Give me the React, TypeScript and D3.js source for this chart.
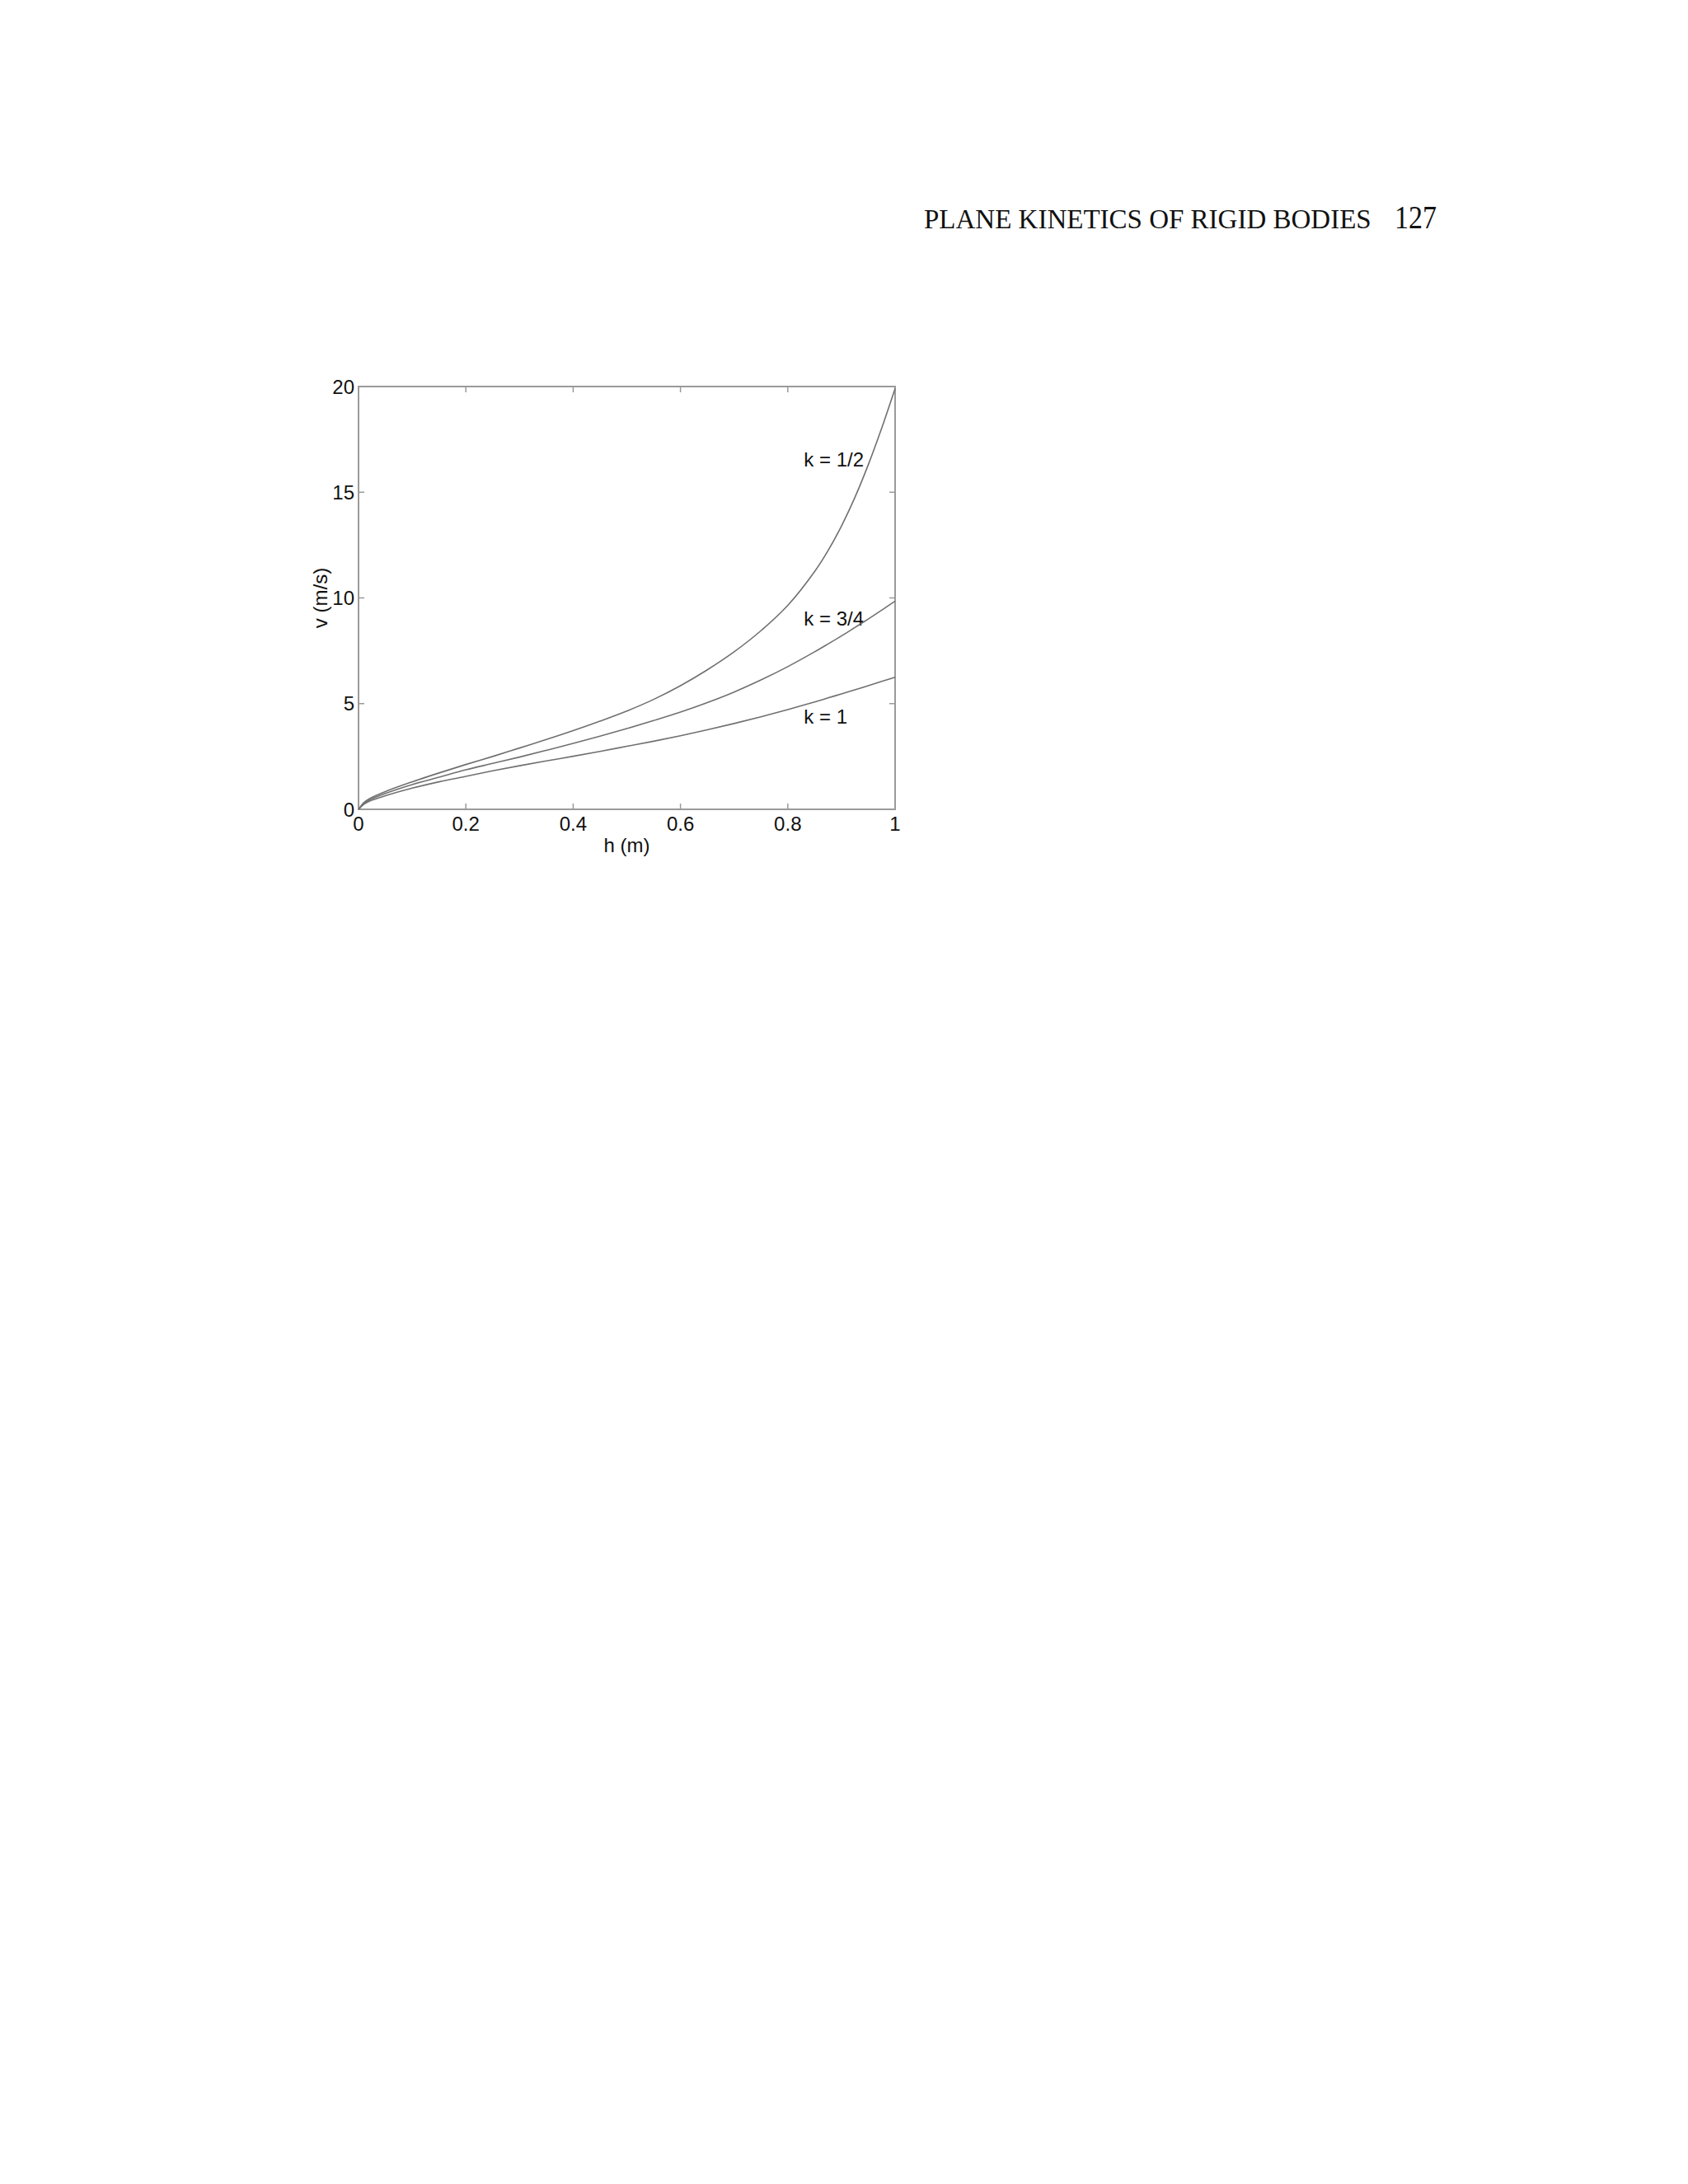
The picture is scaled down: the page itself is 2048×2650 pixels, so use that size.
import React, { useRef, useEffect } from "react";
import * as d3 from "d3";

// h (m) sample points
const heights = [0, 0.01, 0.02, 0.05, 0.1, 0.15, 0.2, 0.25, 0.3, 0.35, 0.4, 0.45, 0.5, 0.55, 0.6, 0.65, 0.7, 0.75, 0.8, 0.85, 0.875, 0.9, 0.925, 0.95, 0.975, 1];

// v (m/s) for each k, same length as heights
const vHalf = [0, 0.32, 0.5, 0.84, 1.3, 1.72, 2.12, 2.5, 2.9, 3.3, 3.72, 4.17, 4.65, 5.2, 5.85, 6.6, 7.45, 8.45, 9.65, 11.25, 12.24, 13.4, 14.75, 16.3, 18.03, 19.9];
const vThreeQuarter = [0, 0.28, 0.44, 0.75, 1.17, 1.52, 1.87, 2.17, 2.47, 2.79, 3.12, 3.46, 3.82, 4.2, 4.6, 5.05, 5.55, 6.12, 6.75, 7.45, 7.82, 8.2, 8.6, 9.0, 9.42, 9.85];
const vOne = [0, 0.24, 0.38, 0.64, 1.0, 1.3, 1.56, 1.82, 2.06, 2.29, 2.51, 2.74, 2.98, 3.22, 3.48, 3.76, 4.06, 4.38, 4.72, 5.08, 5.27, 5.46, 5.65, 5.85, 6.05, 6.25];

const seriesNames = ["k = 1/2", "k = 3/4", "k = 1"];
const seriesValues = [vHalf, vThreeQuarter, vOne];
// where each curve label sits (h, v of the text baseline start)
const labelPos = [[0.83, 16.2], [0.83, 8.7], [0.83, 4.05]];

const xTicks = [0, 0.2, 0.4, 0.6, 0.8, 1];
const yTicks = [0, 5, 10, 15, 20];

const App: React.FC = () => {
    const svgRef = useRef<SVGSVGElement | null>(null);

    useEffect(() => {
        if (!svgRef.current) return;
        const svg = d3.select(svgRef.current);
        svg.selectAll("*").remove();

        const left = 435, right = 1086, top = 469, bottom = 982;
        const x = d3.scaleLinear().domain([0, 1]).range([left, right]);
        const y = d3.scaleLinear().domain([0, 20]).range([bottom, top]);

        const axisColor = "#9a9a9a";
        const font = "Arial, 'Liberation Sans', sans-serif";
        const tickLen = 7;

        // running header
        svg.append("text")
            .attr("x", 1121).attr("y", 277)
            .attr("font-family", "'Times New Roman', 'Liberation Serif', serif")
            .attr("font-size", 33)
            .attr("fill", "#111")
            .text("PLANE KINETICS OF RIGID BODIES");
        svg.append("text")
            .attr("x", 1692).attr("y", 277)
            .attr("font-family", "'Times New Roman', 'Liberation Serif', serif")
            .attr("font-size", 40)
            .attr("textLength", 51)
            .attr("lengthAdjust", "spacingAndGlyphs")
            .attr("fill", "#111")
            .text("127");

        // axes box
        svg.append("rect")
            .attr("x", left).attr("y", top)
            .attr("width", right - left).attr("height", bottom - top)
            .attr("fill", "none")
            .attr("stroke", axisColor)
            .attr("stroke-width", 2);

        // ticks on all four sides (inward)
        const g = svg.append("g").attr("stroke", axisColor).attr("stroke-width", 1.5);
        xTicks.slice(1, -1).forEach(t => {
            g.append("line").attr("x1", x(t)).attr("x2", x(t)).attr("y1", bottom).attr("y2", bottom - tickLen);
            g.append("line").attr("x1", x(t)).attr("x2", x(t)).attr("y1", top).attr("y2", top + tickLen);
        });
        yTicks.slice(1, -1).forEach(t => {
            g.append("line").attr("x1", left).attr("x2", left + tickLen).attr("y1", y(t)).attr("y2", y(t));
            g.append("line").attr("x1", right).attr("x2", right - tickLen).attr("y1", y(t)).attr("y2", y(t));
        });

        // tick labels
        const labels = svg.append("g").attr("font-family", font).attr("font-size", 24).attr("fill", "#111");
        xTicks.forEach(t => {
            labels.append("text")
                .attr("x", x(t)).attr("y", 1008)
                .attr("text-anchor", "middle")
                .text(d3.format("~g")(t));
        });
        yTicks.forEach(t => {
            labels.append("text")
                .attr("x", left - 5).attr("y", y(t))
                .attr("dy", "0.36em")
                .attr("text-anchor", "end")
                .text(String(t));
        });

        // axis titles
        labels.append("text")
            .attr("x", (left + right) / 2).attr("y", 1034)
            .attr("text-anchor", "middle")
            .text("h (m)");
        labels.append("text")
            .attr("transform", `translate(397,${(top + bottom) / 2}) rotate(-90)`)
            .attr("text-anchor", "middle")
            .text("v (m/s)");

        // curves
        const line = d3.line<number>()
            .x((_, i) => x(heights[i]))
            .y(d => y(d))
            .curve(d3.curveCatmullRom.alpha(0.5));

        seriesValues.forEach(vals => {
            svg.append("path")
                .attr("d", line(vals))
                .attr("fill", "none")
                .attr("stroke", "#707070")
                .attr("stroke-width", 1.6);
        });

        seriesNames.forEach((name, i) => {
            labels.append("text")
                .attr("x", x(labelPos[i][0])).attr("y", y(labelPos[i][1]))
                .text(name);
        });
    }, []);

    return (
        <svg
            ref={svgRef}
            width={2048}
            height={2650}
            viewBox="0 0 2048 2650"
            style={{ position: "absolute", left: 0, top: 0, background: "#fff" }}
        />
    );
};

export default App;
